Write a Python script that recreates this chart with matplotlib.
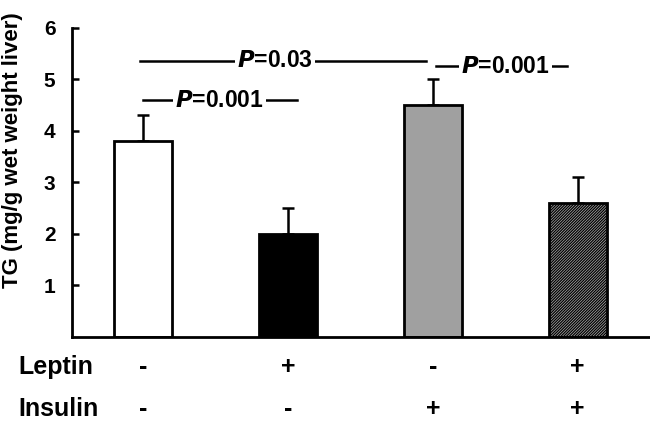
import matplotlib
matplotlib.use("Agg")
import matplotlib.pyplot as plt

plt.rcParams.update({
    "font.family": ["Liberation Sans", "DejaVu Sans"],
    "font.weight": "bold",
    "hatch.linewidth": 0.9,
    "hatch.color": "#333333",
})

# ---- data ------------------------------------------------------------------
groups = ["ctrl", "leptin", "insulin", "leptin+insulin"]
tg_mean = [3.8, 2.0, 4.5, 2.6]
tg_err = [0.5, 0.5, 0.5, 0.5]
fills = ["white", "black", "#a0a0a0", "#b0b0b0"]
hatches = [None, None, None, "////////////"]
leptin_row = ["-", "+", "-", "+"]
insulin_row = ["-", "-", "+", "+"]

fig = plt.figure(figsize=(6.5, 4.21), dpi=100)
ax = fig.add_axes([0.111, 0.2, 0.889, 0.7335])

x = range(len(groups))
ax.bar(x, tg_mean, width=0.4, color=fills, edgecolor="black", linewidth=2,
       hatch=hatches, zorder=2)
ax.errorbar(x, tg_mean, yerr=[[0] * 4, tg_err], fmt="none", ecolor="black",
            elinewidth=1.8, capsize=4, capthick=1.8, zorder=1)

ax.set_xlim(-0.49, 3.5)
ax.set_ylim(0, 6)
ax.set_yticks([1, 2, 3, 4, 5, 6])
ax.tick_params(axis="y", direction="in", length=5, width=1.8, labelsize=15, pad=12)
ax.tick_params(axis="x", length=0, labelbottom=False)
for side in ("top", "right"):
    ax.spines[side].set_visible(False)
for side in ("left", "bottom"):
    ax.spines[side].set_linewidth(2)
ax.set_ylabel("TG (mg/g wet weight liver)", fontsize=16, fontweight="bold")
ax.yaxis.set_label_coords(-0.085, 0.605)

# ---- significance annotations ----------------------------------------------
def p_label(x0, x1, y, text, xt):
    ax.plot([x0, x1], [y, y], color="black", lw=1.8, clip_on=False)
    ax.text(xt, y, text, ha="center", va="center", fontsize=16.5,
            fontweight="bold", zorder=5,
            bbox=dict(facecolor="white", edgecolor="none", pad=1.5))

p_label(0.0, 1.06, 4.6, "$\\boldsymbol{P}$=0.001", 0.53)
p_label(-0.02, 1.95, 5.36, "$\\boldsymbol{P}$=0.03", 0.91)
p_label(2.02, 2.93, 5.26, "$\\boldsymbol{P}$=0.001", 2.5)

# ---- treatment table below axis --------------------------------------------
for i in x:
    ax.text(i, -0.58, leptin_row[i], ha="center", va="center", fontsize=18,
            fontweight="bold", clip_on=False)
    ax.text(i, -1.4, insulin_row[i], ha="center", va="center", fontsize=18,
            fontweight="bold", clip_on=False)
fig.text(18 / 650, 1 - 367 / 421, "Leptin", ha="left", va="center", fontsize=18, fontweight="bold")
fig.text(18 / 650, 1 - 409 / 421, "Insulin", ha="left", va="center", fontsize=18, fontweight="bold")

fig.savefig("out.png", dpi=100)
